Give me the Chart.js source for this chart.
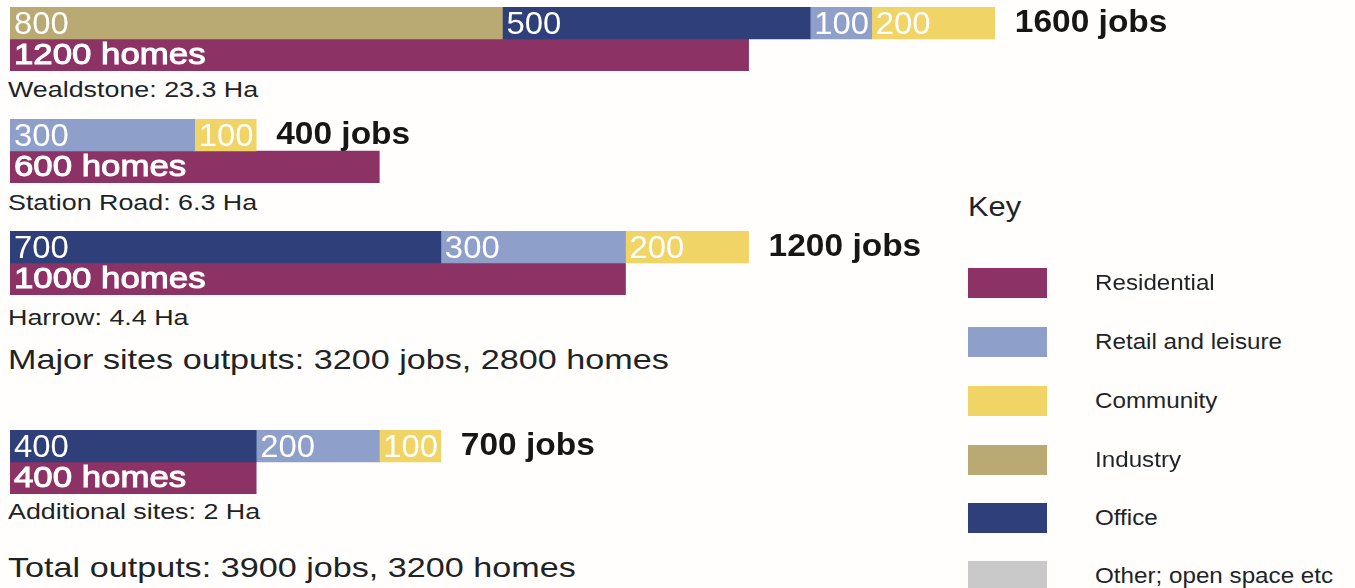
<!DOCTYPE html>
<html>
<head>
<meta charset="utf-8">
<script src="https://cdn.jsdelivr.net/npm/chart.js@4.4.1/dist/chart.umd.min.js"></script>
<style>
html,body{margin:0;padding:0;background:#fffefc;}
body{width:1355px;height:588px;position:relative;overflow:hidden;font-family:"Liberation Sans",Arial,sans-serif;color:#1e2426;}
.blk{position:absolute;left:10px;}
.blk canvas{display:block;}
.txt{position:absolute;white-space:nowrap;transform:scaleX(1.22);transform-origin:0 50%;line-height:30px;height:30px;}
.site{font-size:22px;left:8px;}
.sum{font-size:28px;left:8px;}
.keyTitle{font-size:28px;left:968px;transform:scaleX(1.1);}
.keyLbl{font-size:22px;left:1095px;transform:scaleX(1.1);}
.sw{position:absolute;left:968px;width:79px;height:30px;}
</style>
</head>
<body>
<script>
// data
const sites = ["Wealdstone", "Station Road", "Harrow", "Additional sites"];
const siteArea = ["23.3", "6.3", "4.4", "2"];
const industryJobs = [800, 0, 0, 0];
const officeJobs = [500, 0, 700, 400];
const retailJobs = [100, 300, 300, 200];
const communityJobs = [200, 100, 200, 100];
const homes = [1200, 600, 1000, 400];
const majorSites = [0, 1, 2];

const keyLabels = ["Residential", "Retail and leisure", "Community", "Industry", "Office", "Other; open space etc"];
const keyColors = ["#8c3264", "#8e9fca", "#f0d466", "#b8aa72", "#2e3f7a", "#c9c9c9"];
const col = {};
keyLabels.forEach((k,i)=>col[k]=keyColors[i]);

// layout (page pixels)
const blockTop = [7, 119, 231, 430];
const siteLabelY = [90, 203, 318, 512];
const majorY = 360, totalY = 568;
const keyTitleY = 207;
const keyTop = [268, 327, 386, 445, 503, 561];
const CW = 1231, CH = 64, XMAX = 2000;

function drawText(ctx, t, x, y, font, color, sx, stroke){
  ctx.save();
  ctx.translate(x, y);
  ctx.scale(sx, 1);
  ctx.font = font;
  ctx.textBaseline = "middle";
  ctx.textAlign = "left";
  if(stroke){
    ctx.lineWidth = 1;
    ctx.strokeStyle = stroke;
    ctx.strokeText(t, 0, 0);
  }
  ctx.fillStyle = color;
  ctx.fillText(t, 0, 0);
  ctx.restore();
}

const barLabels = {
  id: "barLabels",
  afterDatasetsDraw(chart){
    const ctx = chart.ctx;
    let end = 0, yJobs = 0, total = 0;
    chart.data.datasets.forEach((ds,i)=>{
      const meta = chart.getDatasetMeta(i);
      meta.data.forEach((el,j)=>{
        const v = ds.data[j];
        if(!v) return;
        const left = Math.min(el.x, el.base);
        if(j===0){
          drawText(ctx, String(v), left+4, el.y+2, "31px 'Liberation Sans', Arial", "#fff", 1.06);
          total += v;
          end = Math.max(end, el.x);
          yJobs = el.y;
        } else {
          drawText(ctx, v+" homes", left+4, el.y+1, "30px 'Liberation Sans', Arial", "#fff", 1.16, "#fff");
        }
      });
    });
    drawText(ctx, total+" jobs", end+20, yJobs, "bold 31px 'Liberation Sans', Arial", "#161616", 1.08);
  }
};

function addText(cls, txt, cy){
  const d = document.createElement("div");
  d.className = "txt "+cls;
  d.textContent = txt;
  d.style.top = (cy-15)+"px";
  document.body.appendChild(d);
}

sites.forEach((s,i)=>{
  const wrap = document.createElement("div");
  wrap.className = "blk";
  wrap.style.top = blockTop[i]+"px";
  const cv = document.createElement("canvas");
  cv.width = CW; cv.height = CH;
  cv.style.width = CW+"px"; cv.style.height = CH+"px";
  wrap.appendChild(cv);
  document.body.appendChild(wrap);

  const jobsSet = (label, arr)=>({
    label, data:[arr[i] || null, null], backgroundColor: col[label],
    barPercentage:1, categoryPercentage:1, borderWidth:0
  });

  new Chart(cv.getContext("2d"), {
    type: "bar",
    data: {
      labels: ["jobs", "homes"],
      datasets: [
        jobsSet("Industry", industryJobs),
        jobsSet("Office", officeJobs),
        jobsSet("Retail and leisure", retailJobs),
        jobsSet("Community", communityJobs),
        { label:"Residential", data:[null, homes[i]], backgroundColor: col["Residential"],
          barPercentage:1, categoryPercentage:1, borderWidth:0 }
      ]
    },
    options: {
      indexAxis: "y",
      responsive: false,
      animation: false,
      devicePixelRatio: 1,
      layout: { padding: 0 },
      scales: {
        x: { stacked:true, min:0, max:XMAX, display:false },
        y: { stacked:true, display:false }
      },
      plugins: { legend:{display:false}, tooltip:{enabled:false} }
    },
    plugins: [barLabels]
  });

  addText("site", s+": "+siteArea[i]+" Ha", siteLabelY[i]);
});

const jobsOf = i => industryJobs[i]+officeJobs[i]+retailJobs[i]+communityJobs[i];
const sum = (idx, f) => idx.reduce((a,i)=>a+f(i), 0);
const allSites = sites.map((_,i)=>i);
addText("sum", "Major sites outputs: "+sum(majorSites, jobsOf)+" jobs, "+sum(majorSites, i=>homes[i])+" homes", majorY);
addText("sum", "Total outputs: "+sum(allSites, jobsOf)+" jobs, "+sum(allSites, i=>homes[i])+" homes", totalY);

// key
addText("keyTitle", "Key", keyTitleY);
keyLabels.forEach((k,i)=>{
  const sw = document.createElement("div");
  sw.className = "sw";
  sw.style.top = keyTop[i]+"px";
  sw.style.background = keyColors[i];
  document.body.appendChild(sw);
  addText("keyLbl", k, keyTop[i]+15);
});
</script>
</body>
</html>
